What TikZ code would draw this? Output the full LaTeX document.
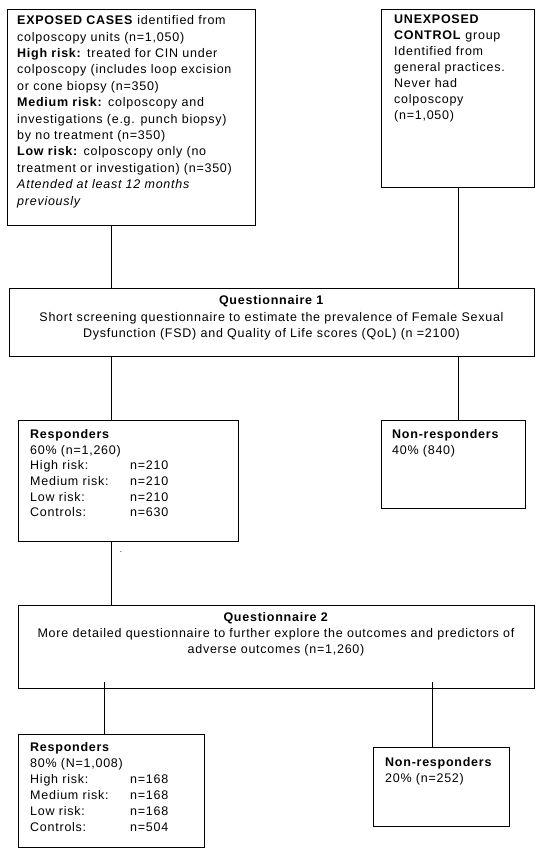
\documentclass[tikz,border=0pt]{standalone}
\usepackage{fontspec}
\setmainfont{Liberation Sans}[LetterSpace=6]
\begin{document}
\begin{tikzpicture}[x=1pt,y=-1pt,
  box/.style={draw=black,line width=1pt,rectangle,inner sep=0pt,outer sep=0pt,anchor=north west},
  txt/.style={anchor=north west,inner sep=0pt,align=left,font=\fontsize{12.5}{16}\selectfont},
  ctxt/.style={anchor=north,inner sep=0pt,align=center,font=\fontsize{12.5}{16.3}\selectfont},
  link/.style={draw=black,line width=1pt}]
\useasboundingbox (0,0) rectangle (550,854);
% boxes
\node[box,minimum width=248,minimum height=216] (b1) at (7,9) {};
\node[box,minimum width=153,minimum height=178] (b2) at (381,9) {};
\node[box,minimum width=525,minimum height=68] (q1) at (9,288) {};
\node[box,minimum width=220,minimum height=121] (r1) at (18,420) {};
\node[box,minimum width=144,minimum height=88] (n1) at (381,420) {};
\node[box,minimum width=516,minimum height=83] (q2) at (18,605) {};
\node[box,minimum width=186,minimum height=113] (r2) at (18,734) {};
\node[box,minimum width=136,minimum height=79] (n2) at (373,747) {};
% texts
\node[txt,font=\fontsize{12.5}{16.4}\selectfont] (b1t) at (17,15.5) {\textbf{EXPOSED CASES} identified from\\
colposcopy units (n=1,050)\\
\textbf{High risk:} treated for CIN under\\
colposcopy (includes loop excision\\
or cone biopsy (n=350)\\
\textbf{Medium risk:} colposcopy and\\
investigations (e.g. punch biopsy)\\
by no treatment (n=350)\\
\textbf{Low risk:} colposcopy only (no\\
treatment or investigation) (n=350)\\
\textit{Attended at least 12 months}\\
\textit{previously}};
\node[txt] (b2t) at (394,14.5) {\textbf{UNEXPOSED}\\
\textbf{CONTROL} group\\
Identified from\\
general practices.\\
Never had\\
colposcopy\\
(n=1,050)};
\node[ctxt] (q1t) at (271.5,295.5) {\textbf{Questionnaire 1}\\
Short screening questionnaire to estimate the prevalence of Female Sexual\\
Dysfunction (FSD) and Quality of Life scores (QoL) (n =2100)};
\node[txt,font=\fontsize{12.5}{15.6}\selectfont] (r1t) at (30,429.5) {\textbf{Responders}\\
60\% (n=1,260)\\
\makebox[100pt][l]{High risk:}n=210\\
\makebox[100pt][l]{Medium risk:}n=210\\
\makebox[100pt][l]{Low risk:}n=210\\
\makebox[100pt][l]{Controls:}n=630};
\node[txt] (n1t) at (392,429.5) {\textbf{Non-responders}\\
40\% (840)};
\node[inner sep=0pt,font=\fontsize{8}{8}\selectfont] (dot) at (121,552) {.};
\node[ctxt,font=\fontsize{12.5}{16}\selectfont] (q2t) at (276,612.5) {\textbf{Questionnaire 2}\\
More detailed questionnaire to further explore the outcomes and predictors of\\
adverse outcomes (n=1,260)};
\node[txt] (r2t) at (30,742.5) {\textbf{Responders}\\
80\% (N=1,008)\\
\makebox[100pt][l]{High risk:}n=168\\
\makebox[100pt][l]{Medium risk:}n=168\\
\makebox[100pt][l]{Low risk:}n=168\\
\makebox[100pt][l]{Controls:}n=504};
\node[txt] (n2t) at (385,757.5) {\textbf{Non-responders}\\
20\% (n=252)};
% connector x positions
\coordinate (xa) at (111,0);
\coordinate (xb) at (458,0);
\coordinate (xc) at (104,0);
\coordinate (xd) at (432,0);
\coordinate (q2in) at (0,682);
% connectors
\draw[link] (b1.south -| xa) -- (q1.north -| xa);
\draw[link] (b2.south -| xb) -- (q1.north -| xb);
\draw[link] (q1.south -| xa) -- (r1.north -| xa);
\draw[link] (q1.south -| xb) -- (n1.north -| xb);
\draw[link] (r1.south -| xa) -- (q2.north -| xa);
\draw[link] (q2in -| xc) -- (r2.north -| xc);
\draw[link] (q2in -| xd) -- (n2.north -| xd);
\end{tikzpicture}
\end{document}
